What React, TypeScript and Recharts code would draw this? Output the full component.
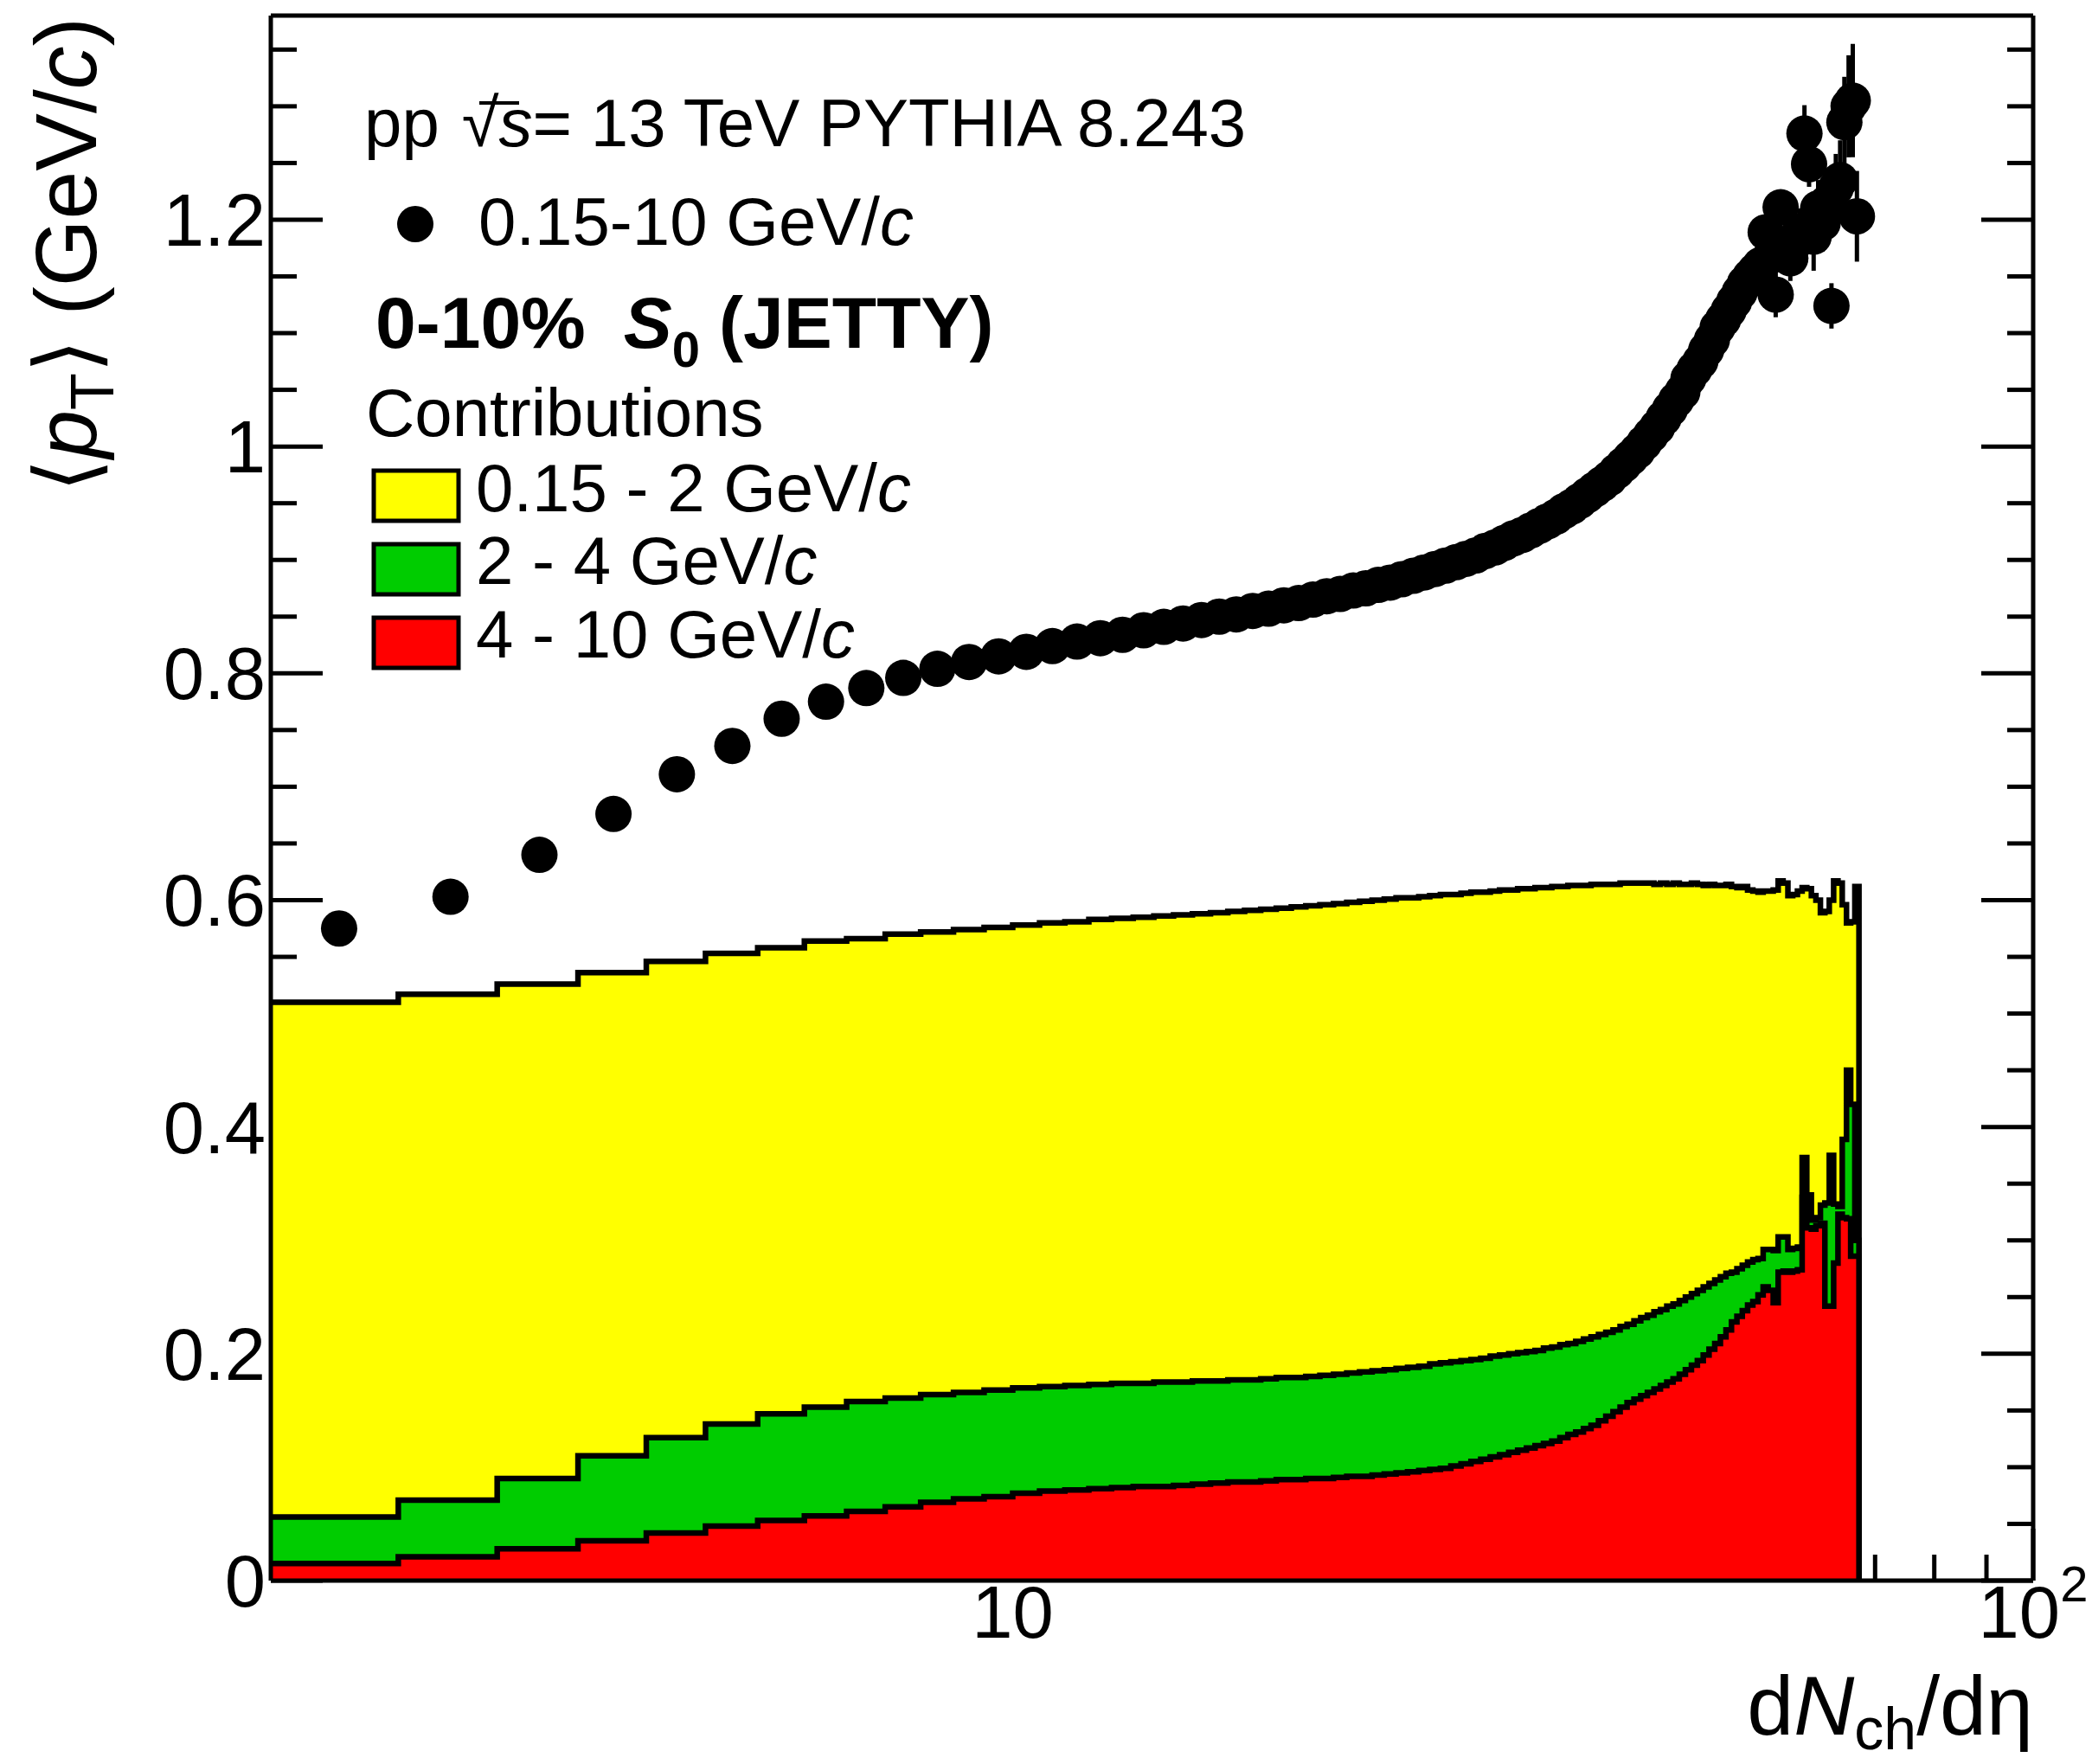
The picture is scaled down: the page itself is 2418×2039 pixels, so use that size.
import React from "react";
import { ComposedChart, Area, Scatter, ErrorBar, XAxis, YAxis } from "recharts";

const W = 2418;
const H = 2039;
const FONT = "'Liberation Sans', Arial, Helvetica, sans-serif";

// Nch bins of unit width in |eta| < 0.8  ->  dNch/deta = Nch / 1.6
const ETA_RANGE = 1.6;
const FIRST_NCH = 3;

// <pT> 0.15-10 GeV/c, one value per Nch bin (Nch = 3 ... 107)
const meanPt = [
  0.575, 0.603, 0.640, 0.676, 0.711, 0.736, 0.760, 0.775, 0.787, 0.796,
  0.804, 0.810, 0.815, 0.819, 0.824, 0.828, 0.831, 0.834, 0.838, 0.841,
  0.844, 0.847, 0.850, 0.852, 0.855, 0.857, 0.860, 0.862, 0.865, 0.868,
  0.870, 0.873, 0.875, 0.878, 0.880, 0.883, 0.886, 0.889, 0.892, 0.895,
  0.898, 0.901, 0.904, 0.908, 0.911, 0.915, 0.919, 0.922, 0.926, 0.930,
  0.934, 0.938, 0.943, 0.947, 0.952, 0.957, 0.962, 0.967, 0.972, 0.978,
  0.984, 0.990, 0.996, 1.003, 1.010, 1.017, 1.025, 1.033, 1.041, 1.048,
  1.060, 1.068, 1.075, 1.085, 1.094, 1.105, 1.112, 1.120, 1.128, 1.136,
  1.144, 1.150, 1.155, 1.160, 1.189, 1.168, 1.134, 1.211, 1.178, 1.166,
  1.180, 1.190, 1.276, 1.249, 1.185, 1.210, 1.197, 1.215, 1.124, 1.228,
  1.235, 1.286, 1.300, 1.305, 1.203,
];

const meanPtErr = [
  0, 0, 0, 0, 0, 0, 0, 0, 0, 0,
  0, 0, 0, 0, 0, 0, 0, 0, 0, 0,
  0, 0, 0, 0, 0, 0, 0, 0, 0, 0,
  0, 0, 0, 0, 0, 0, 0, 0, 0, 0,
  0, 0, 0, 0, 0, 0, 0, 0, 0, 0,
  0, 0, 0, 0, 0, 0, 0, 0, 0, 0,
  0, 0, 0, 0, 0, 0, 0, 0, 0, 0,
  0, 0, 0, 0, 0, 0, 0, 0, 0, 0,
  0, 0, 0, 0.010, 0.015, 0.012, 0.020, 0.015, 0.015, 0.020,
  0.020, 0.020, 0.025, 0.020, 0.030, 0.025, 0.025, 0.030, 0.020, 0.030,
  0.035, 0.040, 0.045, 0.050, 0.040,
];

// contribution 0.15 - 2 GeV/c
const contribLow = [
  0.510, 0.517, 0.526, 0.536, 0.546, 0.553, 0.558, 0.564, 0.566, 0.570,
  0.572, 0.574, 0.576, 0.578, 0.580, 0.581, 0.583, 0.584, 0.585, 0.586,
  0.587, 0.588, 0.589, 0.590, 0.591, 0.592, 0.593, 0.594, 0.595, 0.596,
  0.597, 0.598, 0.599, 0.600, 0.601, 0.602, 0.602, 0.603, 0.604, 0.605,
  0.605, 0.606, 0.607, 0.607, 0.608, 0.609, 0.609, 0.610, 0.610, 0.611,
  0.611, 0.612, 0.612, 0.613, 0.613, 0.613, 0.614, 0.614, 0.614, 0.614,
  0.615, 0.615, 0.615, 0.615, 0.615, 0.614, 0.615, 0.614, 0.615, 0.614,
  0.614, 0.615, 0.614, 0.613, 0.614, 0.613, 0.613, 0.614, 0.612, 0.611,
  0.612, 0.609, 0.608, 0.607, 0.608, 0.608, 0.609, 0.617, 0.615, 0.604,
  0.605, 0.608, 0.611, 0.610, 0.604, 0.600, 0.589, 0.590, 0.600, 0.617,
  0.615, 0.596, 0.580, 0.581, 0.612,
];

// contribution 2 - 4 GeV/c
const contribMid = [
  0.056, 0.071, 0.090, 0.110, 0.126, 0.138, 0.147, 0.153, 0.158, 0.161,
  0.164, 0.166, 0.168, 0.170, 0.171, 0.172, 0.173, 0.174, 0.174, 0.175,
  0.175, 0.176, 0.176, 0.177, 0.177, 0.178, 0.179, 0.179, 0.180, 0.181,
  0.182, 0.183, 0.184, 0.185, 0.186, 0.187, 0.188, 0.189, 0.191, 0.192,
  0.193, 0.194, 0.195, 0.196, 0.198, 0.199, 0.200, 0.201, 0.202, 0.203,
  0.205, 0.206, 0.208, 0.209, 0.211, 0.213, 0.215, 0.217, 0.219, 0.221,
  0.224, 0.226, 0.229, 0.232, 0.234, 0.237, 0.239, 0.242, 0.244, 0.247,
  0.250, 0.253, 0.256, 0.259, 0.262, 0.265, 0.268, 0.271, 0.272, 0.275,
  0.278, 0.281, 0.283, 0.284, 0.292, 0.292, 0.291, 0.303, 0.303, 0.292,
  0.293, 0.294, 0.373, 0.340, 0.318, 0.320, 0.331, 0.333, 0.375, 0.332,
  0.330, 0.389, 0.450, 0.420, 0.300,
];

// contribution 4 - 10 GeV/c
const contribHigh = [
  0.015, 0.021, 0.028, 0.035, 0.042, 0.048, 0.053, 0.057, 0.061, 0.065,
  0.069, 0.072, 0.074, 0.077, 0.079, 0.080, 0.081, 0.082, 0.083, 0.083,
  0.084, 0.085, 0.086, 0.087, 0.087, 0.088, 0.089, 0.089, 0.090, 0.090,
  0.091, 0.092, 0.092, 0.093, 0.094, 0.095, 0.096, 0.097, 0.098, 0.099,
  0.101, 0.103, 0.105, 0.107, 0.109, 0.111, 0.113, 0.115, 0.117, 0.119,
  0.121, 0.123, 0.126, 0.129, 0.131, 0.134, 0.137, 0.141, 0.145, 0.149,
  0.153, 0.157, 0.160, 0.163, 0.166, 0.169, 0.172, 0.175, 0.178, 0.182,
  0.186, 0.190, 0.194, 0.199, 0.204, 0.209, 0.215, 0.221, 0.228, 0.233,
  0.238, 0.243, 0.246, 0.252, 0.259, 0.256, 0.245, 0.272, 0.273, 0.272,
  0.273, 0.274, 0.338, 0.311, 0.310, 0.313, 0.315, 0.242, 0.242, 0.280,
  0.323, 0.320, 0.319, 0.286, 0.286,
];

const xTicks = [2, 3, 4, 5, 6, 7, 8, 9, 10, 20, 30, 40, 50, 60, 70, 80, 90, 100];
const yTicks = [
  0, 0.05, 0.1, 0.15, 0.2, 0.25, 0.3, 0.35, 0.4, 0.45, 0.5, 0.55, 0.6, 0.65,
  0.7, 0.75, 0.8, 0.85, 0.9, 0.95, 1, 1.05, 1.1, 1.15, 1.2, 1.25, 1.3, 1.35,
];

const histData = contribLow.map((v, i) => ({
  x: (FIRST_NCH + i) / ETA_RANGE,
  low: v,
  mid: contribMid[i],
  high: contribHigh[i],
}));
// closing edge of the last bin
histData.push({ x: (FIRST_NCH + contribLow.length) / ETA_RANGE, low: 0, mid: 0, high: 0 });

const pointData = meanPt.map((v, i) => ({
  x: (FIRST_NCH + i + 0.5) / ETA_RANGE,
  y: v,
  err: meanPtErr[i],
}));

const MAJOR = 60;
const MINOR = 30;
const TICK_W = 5;
const LINE_W = 6.5;
const LABEL_SIZE = 85;
const TEXT_SIZE = 78;
const X_DOMAIN = [1.875, 100];
const Y_DOMAIN = [0, 1.38];

const isMajorY = (v: number) => Math.round(v * 100) % 20 === 0;
const isMajorX = (v: number) => v === 10 || v === 100;

function BottomTick({ x, y, payload }: any) {
  const v = payload.value;
  return (
    <g>
      <line x1={x} x2={x} y1={y} y2={y - (isMajorX(v) ? MAJOR : MINOR)} stroke="#000" strokeWidth={TICK_W} />
      {v === 10 && (
        <text x={x} y={y + 66} textAnchor="middle" fontSize={LABEL_SIZE} fontFamily={FONT}>
          10
        </text>
      )}
      {v === 100 && (
        <text x={x} y={y + 66} textAnchor="middle" fontSize={LABEL_SIZE} fontFamily={FONT}>
          10
          <tspan fontSize={58} dy={-42}>2</tspan>
        </text>
      )}
    </g>
  );
}

function TopTick({ x, y, payload }: any) {
  const v = payload.value;
  return <line x1={x} x2={x} y1={y} y2={y + (isMajorX(v) ? MAJOR : MINOR)} stroke="#000" strokeWidth={TICK_W} />;
}

function LeftTick({ x, y, payload }: any) {
  const v = payload.value;
  const major = isMajorY(v);
  const label = v === 0 ? "0" : v === 1 ? "1" : v.toFixed(1);
  return (
    <g>
      <line x1={x} x2={x + (major ? MAJOR : MINOR)} y1={y} y2={y} stroke="#000" strokeWidth={TICK_W} />
      {major && (
        <text x={x - 6} y={y + 30} textAnchor="end" fontSize={LABEL_SIZE} fontFamily={FONT}>
          {label}
        </text>
      )}
    </g>
  );
}

function RightTick({ x, y, payload }: any) {
  const v = payload.value;
  return <line x1={x} x2={x - (isMajorY(v) ? MAJOR : MINOR)} y1={y} y2={y} stroke="#000" strokeWidth={TICK_W} />;
}

const Marker = (props: any) => <circle cx={props.cx} cy={props.cy} r={21} fill="#000" />;

// the four axes of the frame; withTicks=false draws only the frame lines
function axes(withTicks: boolean) {
  const line = withTicks ? false : { stroke: "#000", strokeWidth: 5 };
  const common = { type: "number" as const, allowDataOverflow: true, interval: 0, tickSize: 0, tickMargin: 0, tickLine: false, axisLine: line };
  return [
    <XAxis key="b" dataKey="x" scale="log" domain={X_DOMAIN} ticks={xTicks} height={212} tick={withTicks ? BottomTick : false} {...common} />,
    <XAxis key="t" xAxisId="top" orientation="top" scale="log" domain={X_DOMAIN} ticks={xTicks} height={18} tick={withTicks ? TopTick : false} {...common} />,
    <YAxis key="l" domain={Y_DOMAIN} ticks={yTicks} width={313} tick={withTicks ? LeftTick : false} {...common} />,
    <YAxis key="r" yAxisId="right" orientation="right" domain={Y_DOMAIN} ticks={yTicks} width={68} tick={withTicks ? RightTick : false} {...common} />,
  ];
}

const margin = { top: 0, right: 0, bottom: 0, left: 0 };

export default function App() {
  return (
    <div style={{ position: "absolute", left: 0, top: 0, width: W, height: H, background: "#fff" }}>
      {/* ticks and labels underneath, as ROOT paints the histograms over them */}
      <div style={{ position: "absolute", left: 0, top: 0 }}>
        <ComposedChart width={W} height={H} data={histData} margin={margin}>
          {axes(true)}
        </ComposedChart>
      </div>

      <div style={{ position: "absolute", left: 0, top: 0 }}>
        <ComposedChart width={W} height={H} data={histData} margin={margin}>
          {axes(false)}
          <Area
            type="stepAfter"
            dataKey="low"
            fill="#ffff00"
            fillOpacity={1}
            stroke="#000"
            strokeWidth={LINE_W}
            dot={false}
            activeDot={false}
            isAnimationActive={false}
          />
          <Area
            type="stepAfter"
            dataKey="mid"
            fill="#00cc00"
            fillOpacity={1}
            stroke="#000"
            strokeWidth={LINE_W}
            dot={false}
            activeDot={false}
            isAnimationActive={false}
          />
          <Area
            type="stepAfter"
            dataKey="high"
            fill="#ff0000"
            fillOpacity={1}
            stroke="#000"
            strokeWidth={LINE_W}
            dot={false}
            activeDot={false}
            isAnimationActive={false}
          />
          <Scatter data={pointData} dataKey="y" shape={Marker} isAnimationActive={false}>
            <ErrorBar dataKey="err" direction="y" width={0} stroke="#000" strokeWidth={5} />
          </Scatter>
        </ComposedChart>
      </div>

      <svg
        width={W}
        height={H}
        style={{ position: "absolute", left: 0, top: 0, pointerEvents: "none" }}
        fontFamily={FONT}
      >
        {/* axis titles */}
        <text transform="translate(111,20) rotate(-90)" textAnchor="end" fontSize={100}>
          {"\u27E8"}
          <tspan fontStyle="italic">p</tspan>
          <tspan fontSize={70} dy={20}>T</tspan>
          <tspan dy={-20}>{"\u27E9 (GeV/"}</tspan>
          <tspan fontStyle="italic">c</tspan>
          <tspan>)</tspan>
        </text>
        <text x={2350} y={2005} textAnchor="end" fontSize={97}>
          d<tspan fontStyle="italic">N</tspan>
          <tspan fontSize={68} dy={17}>ch</tspan>
          <tspan dy={-17}>/d{"\u03B7"}</tspan>
        </text>

        {/* legend */}
        <text x={421} y={169} fontSize={TEXT_SIZE}>
          pp<tspan dx={26}>{"\u221A"}</tspan>
          <tspan fontStyle="italic">s</tspan>
          <tspan>= 13 TeV PYTHIA 8.243</tspan>
        </text>
        <line x1={554} x2={600} y1={119} y2={119} stroke="#000" strokeWidth={4} />
        <circle cx={480} cy={259} r={21} fill="#000" />
        <text x={553} y={283} fontSize={TEXT_SIZE}>
          0.15-10 GeV/<tspan fontStyle="italic">c</tspan>
        </text>
        <text x={434} y={402} fontSize={84} fontWeight="bold">
          0-10%
          <tspan dx={44} fontStyle="italic">S</tspan>
          <tspan fontSize={58} dy={22}>0</tspan>
          <tspan dy={-22} dx={22}>(JETTY)</tspan>
        </text>
        <text x={423} y={504} fontSize={TEXT_SIZE}>
          Contributions
        </text>
        <rect x={432} y={544} width={98} height={58} fill="#ffff00" stroke="#000" strokeWidth={5} />
        <rect x={432} y={629} width={98} height={58} fill="#00cc00" stroke="#000" strokeWidth={5} />
        <rect x={432} y={714} width={98} height={58} fill="#ff0000" stroke="#000" strokeWidth={5} />
        <text x={550} y={591} fontSize={TEXT_SIZE}>
          0.15 - 2 GeV/<tspan fontStyle="italic">c</tspan>
        </text>
        <text x={550} y={675} fontSize={TEXT_SIZE}>
          2 - 4 GeV/<tspan fontStyle="italic">c</tspan>
        </text>
        <text x={550} y={760} fontSize={TEXT_SIZE}>
          4 - 10 GeV/<tspan fontStyle="italic">c</tspan>
        </text>
      </svg>
    </div>
  );
}
